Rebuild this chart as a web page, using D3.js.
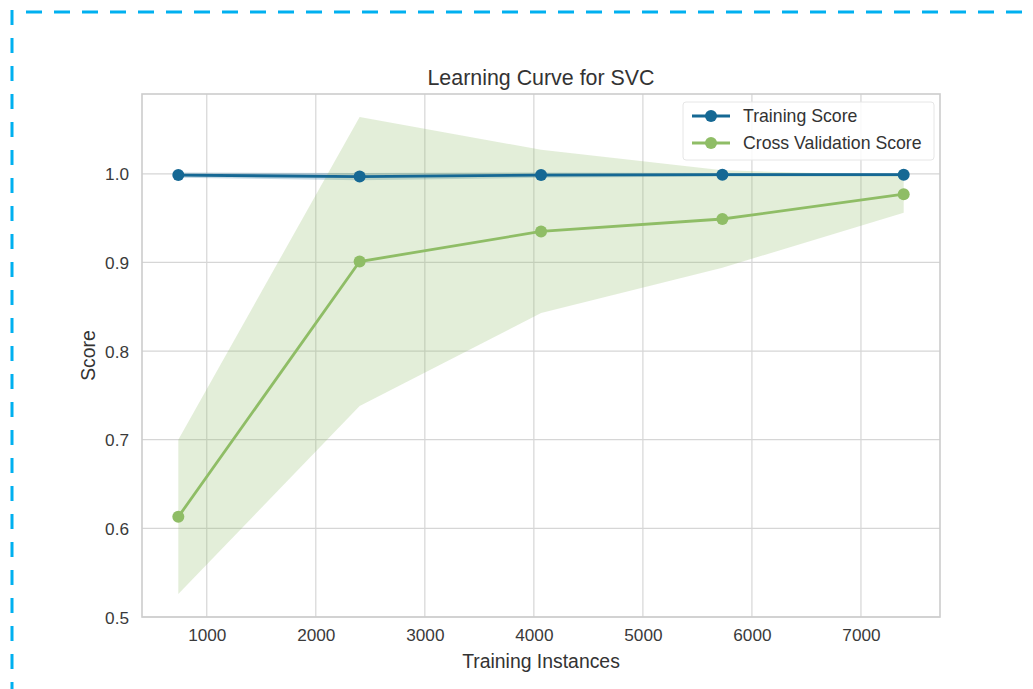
<!DOCTYPE html>
<html>
<head>
<meta charset="utf-8">
<script src="https://cdn.jsdelivr.net/npm/d3@7"></script>
<style>
  html, body { margin: 0; padding: 0; background: #ffffff; }
  svg { display: block; font-family: "Liberation Sans", Arial, Helvetica, sans-serif; }
</style>
</head>
<body>
<svg id="chart" width="1033" height="689"></svg>
<script>
// Training set sizes used for each point of the learning curve
const trainSizes = [739, 2402, 4066, 5729, 7392];

// Mean and standard deviation of the training score
const trainMean = [0.9985, 0.9968, 0.9985, 0.999, 0.999];
const trainStd  = [0.003, 0.004, 0.003, 0.002, 0.002];

// Mean and standard deviation of the cross-validation score
const cvMean = [0.613, 0.901, 0.935, 0.949, 0.977];
const cvStd  = [0.087, 0.163, 0.092, 0.055, 0.021];

const xTicks = [1000, 2000, 3000, 4000, 5000, 6000, 7000];
const yTicks = [0.5, 0.6, 0.7, 0.8, 0.9, 1.0];

const seriesNames = ["Training Score", "Cross Validation Score"];
const seriesColors = ["#156894", "#8fbd66"];

const W = 1033, H = 689;
const plot = { left: 142, right: 940, top: 94, bottom: 617 };

const svg = d3.select("#chart");

// Dashed frame along the top and left edges
svg.append("line")
  .attr("x1", 26).attr("x2", W).attr("y1", 12).attr("y2", 12)
  .attr("stroke", "#00b0f0").attr("stroke-width", 3)
  .attr("stroke-dasharray", "16 12");
svg.append("line")
  .attr("x1", 12).attr("x2", 12).attr("y1", 10).attr("y2", H)
  .attr("stroke", "#00b0f0").attr("stroke-width", 3)
  .attr("stroke-dasharray", "15 13");

const x = d3.scaleLinear().domain([406, 7725]).range([plot.left, plot.right]);
const y = d3.scaleLinear().domain([0.5, 1.09]).range([plot.bottom, plot.top]);

// Plot background
svg.append("rect")
  .attr("x", plot.left).attr("y", plot.top)
  .attr("width", plot.right - plot.left).attr("height", plot.bottom - plot.top)
  .attr("fill", "#ffffff");

// Grid lines
const grid = svg.append("g").attr("class", "grid");
grid.selectAll("line.v").data(xTicks).join("line")
  .attr("class", "v")
  .attr("x1", d => x(d)).attr("x2", d => x(d))
  .attr("y1", plot.top).attr("y2", plot.bottom)
  .attr("stroke", "#d6d6d6").attr("stroke-width", 1.2);
grid.selectAll("line.h").data(yTicks).join("line")
  .attr("class", "h")
  .attr("x1", plot.left).attr("x2", plot.right)
  .attr("y1", d => y(d)).attr("y2", d => y(d))
  .attr("stroke", "#d6d6d6").attr("stroke-width", 1.2);

// Axes (tick labels only; tick marks hidden)
const xAxis = d3.axisBottom(x).tickValues(xTicks).tickFormat(d3.format("d")).tickSize(0).tickPadding(12);
const yAxis = d3.axisLeft(y).tickValues(yTicks).tickFormat(d3.format(".1f")).tickSize(0).tickPadding(13);

const gx = svg.append("g").attr("transform", `translate(0,${plot.bottom})`).call(xAxis);
const gy = svg.append("g").attr("transform", `translate(${plot.left},0)`).call(yAxis);
[gx, gy].forEach(g => {
  g.select(".domain").remove();
  g.selectAll("text")
    .attr("fill", "#3a3a3a")
    .style("font-size", "17.2px")
    .style("font-family", "'Liberation Sans', Arial, sans-serif");
});
gy.selectAll("text").attr("dy", "0.36em");

// Confidence bands (mean ± std)
const band = (mean, std) => d3.area()
  .x((d, i) => x(trainSizes[i]))
  .y0((d, i) => y(mean[i] - std[i]))
  .y1((d, i) => y(mean[i] + std[i]));

svg.append("clipPath").attr("id", "plotclip")
  .append("rect")
  .attr("x", plot.left).attr("y", plot.top)
  .attr("width", plot.right - plot.left).attr("height", plot.bottom - plot.top);

const marks = svg.append("g").attr("clip-path", "url(#plotclip)");

marks.append("path")
  .datum(trainSizes)
  .attr("d", band(trainMean, trainStd))
  .attr("fill", seriesColors[0]).attr("fill-opacity", 0.25);
marks.append("path")
  .datum(trainSizes)
  .attr("d", band(cvMean, cvStd))
  .attr("fill", seriesColors[1]).attr("fill-opacity", 0.25);

// Mean score lines with markers
const line = mean => d3.line()
  .x((d, i) => x(trainSizes[i]))
  .y((d, i) => y(mean[i]));

[[trainMean, 0], [cvMean, 1]].forEach(([mean, k]) => {
  marks.append("path")
    .datum(trainSizes)
    .attr("d", line(mean))
    .attr("fill", "none")
    .attr("stroke", seriesColors[k])
    .attr("stroke-width", 2.8);
  marks.selectAll(null).data(trainSizes).join("circle")
    .attr("cx", d => x(d))
    .attr("cy", (d, i) => y(mean[i]))
    .attr("r", 6)
    .attr("fill", seriesColors[k]);
});

// Axes frame
svg.append("rect")
  .attr("x", plot.left).attr("y", plot.top)
  .attr("width", plot.right - plot.left).attr("height", plot.bottom - plot.top)
  .attr("fill", "none").attr("stroke", "#cccccc").attr("stroke-width", 1.6);

// Title and axis labels
svg.append("text")
  .attr("x", (plot.left + plot.right) / 2).attr("y", 77)
  .attr("text-anchor", "middle").attr("dy", "0.36em")
  .attr("fill", "#333333").style("font-size", "21.4px")
  .text("Learning Curve for SVC");

svg.append("text")
  .attr("x", (plot.left + plot.right) / 2).attr("y", 661)
  .attr("text-anchor", "middle").attr("dy", "0.36em")
  .attr("fill", "#333333").style("font-size", "19.4px")
  .text("Training Instances");

svg.append("text")
  .attr("transform", `translate(88,${(plot.top + plot.bottom) / 2}) rotate(-90)`)
  .attr("text-anchor", "middle").attr("dy", "0.36em")
  .attr("fill", "#333333").style("font-size", "19.4px")
  .text("Score");

// Legend
const legend = svg.append("g");
legend.append("rect")
  .attr("x", 683).attr("y", 102).attr("width", 251).attr("height", 58)
  .attr("rx", 3)
  .attr("fill", "#ffffff").attr("fill-opacity", 0.85)
  .attr("stroke", "#e6e6e6").attr("stroke-width", 1);

const rows = legend.selectAll("g.item").data(seriesNames).join("g")
  .attr("class", "item")
  .attr("transform", (d, i) => `translate(0,${116 + i * 27})`);
rows.append("line")
  .attr("x1", 692).attr("x2", 730).attr("y1", 0).attr("y2", 0)
  .attr("stroke", (d, i) => seriesColors[i]).attr("stroke-width", 2.8);
rows.append("circle")
  .attr("cx", 711).attr("cy", 0).attr("r", 6)
  .attr("fill", (d, i) => seriesColors[i]);
rows.append("text")
  .attr("x", 743).attr("y", 0).attr("dy", "0.36em")
  .attr("fill", "#333333").style("font-size", "17.7px")
  .text(d => d);
</script>
</body>
</html>
